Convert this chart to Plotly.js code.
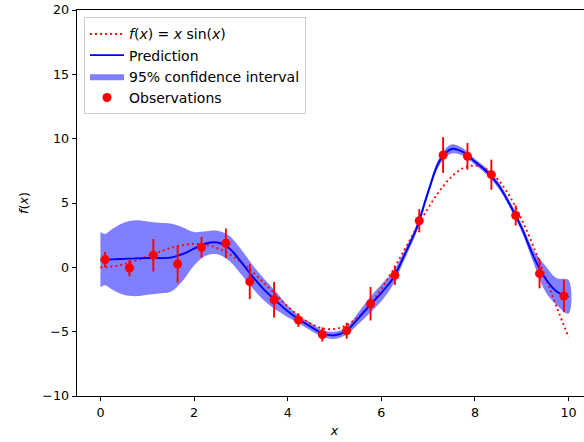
<!DOCTYPE html>
<html>
<head>
<meta charset="utf-8">
<script src="https://cdn.plot.ly/plotly-3.0.1.min.js"></script>
<style>
html,body{margin:0;padding:0;overflow:hidden;background:#fff;}
#chart{width:600px;height:442px;}
</style>
</head>
<body>
<div id="chart"></div>
<script>
// f(x) = x sin(x), read at 0.25 steps
const fX = [0,0.25,0.5,0.75,1,1.25,1.5,1.75,2,2.25,2.5,2.75,3,3.25,3.5,3.75,4,4.25,4.5,4.75,5,5.25,5.5,5.75,6,6.25,6.5,6.75,7,7.25,7.5,7.75,8,8.25,8.5,8.75,9,9.25,9.5,9.75,10];
const fY = [0,0.06,0.24,0.51,0.84,1.19,1.50,1.72,1.82,1.75,1.50,1.05,0.42,-0.35,-1.23,-2.14,-3.03,-3.80,-4.40,-4.75,-4.79,-4.51,-3.88,-2.92,-1.68,-0.21,1.40,3.04,4.60,5.97,7.04,7.71,7.91,7.61,6.79,5.47,3.71,1.61,-0.71,-3.12,-5.44];

// GP prediction mean and 95% half-width
const predX = [0,0.1,0.25,0.5,0.75,1,1.25,1.5,1.75,2,2.25,2.5,2.75,3,3.25,3.5,3.75,4,4.25,4.5,4.75,5,5.25,5.5,5.75,6,6.25,6.5,6.75,7,7.25,7.5,7.75,8,8.25,8.5,8.75,9,9.25,9.5,9.75,10];
const predY = [0.60,0.60,0.62,0.66,0.70,0.72,0.72,0.75,1.02,1.45,1.85,1.93,1.48,0.45,-0.72,-1.75,-2.60,-3.42,-4.08,-4.63,-5.15,-5.28,-4.95,-4.00,-2.97,-1.98,-0.85,1.00,3.00,5.85,8.30,9.20,8.95,8.20,7.45,6.40,4.85,3.05,0.85,-0.85,-1.90,-2.30];
const ciHalf = [2.15,2.00,2.35,2.80,2.95,2.85,2.75,2.65,2.10,1.30,0.95,0.92,0.97,0.97,0.90,0.85,0.70,0.45,0.30,0.30,0.25,0.28,0.28,0.45,0.60,0.65,0.50,0.35,0.30,0.28,0.30,0.35,0.28,0.22,0.25,0.25,0.25,0.30,0.50,1.00,1.05,1.30];

// Observations
const obsX = [0.1,0.62,1.13,1.65,2.16,2.68,3.19,3.71,4.23,4.74,5.26,5.77,6.29,6.81,7.32,7.84,8.35,8.87,9.38,9.9];
const obsY = [0.60,-0.05,0.94,0.26,1.56,1.87,-1.11,-2.52,-4.10,-5.22,-4.93,-2.83,-0.62,3.62,8.73,8.63,7.20,4.03,-0.49,-2.23];
const obsErr = [0.60,0.65,1.26,1.46,0.80,1.15,1.36,1.39,0.53,0.55,0.62,1.30,0.75,0.90,1.39,1.04,1.17,0.78,1.14,1.26];

const upper = predY.map((v,i)=>v+ciHalf[i]);
const lower = predY.map((v,i)=>v-ciHalf[i]);

const FONT = 'DejaVu Sans, sans-serif';
const FS = 12.7;
const LFS = 14;

const traces = [
  {
    x: predX.concat(predX.slice().reverse()),
    y: upper.concat(lower.slice().reverse()),
    type: 'scatter', mode: 'lines', fill: 'toself',
    fillcolor: 'rgba(0,0,255,0.5)',
    line: {width: 0, shape: 'spline', color: 'rgba(0,0,255,0.5)'},
    name: '95% confidence interval', legendrank: 3, hoverinfo: 'skip'
  },
  {
    x: fX, y: fY, type: 'scatter', mode: 'lines',
    line: {color: 'red', width: 1.9, dash: '1.9px,3.1px', shape: 'spline'},
    name: '<i>f</i>(<i>x</i>) = <i>x</i> sin(<i>x</i>)', legendrank: 1
  },
  {
    x: predX, y: predY, type: 'scatter', mode: 'lines',
    line: {color: 'blue', width: 1.9, shape: 'spline'},
    name: 'Prediction', legendrank: 2
  },
  {
    x: obsX, y: obsY, type: 'scatter', mode: 'markers',
    marker: {color: 'red', size: 9},
    error_y: {type: 'data', array: obsErr, visible: true, color: 'red', thickness: 1.9, width: 0},
    name: 'Observations', legendrank: 4
  }
];

const axisCommon = {
  showline: true, linecolor: '#000', linewidth: 1, mirror: true,
  ticks: 'outside', ticklen: 4.4, tickwidth: 1, tickcolor: '#000',
  showgrid: false, zeroline: false,
  tickfont: {family: FONT, size: FS, color: '#000'}
};

const layout = {
  width: 600, height: 442,
  margin: {l: 77, r: 8, t: 10, b: 46},
  paper_bgcolor: '#fff', plot_bgcolor: '#fff',
  font: {family: FONT, size: FS, color: '#000'},
  xaxis: Object.assign({}, axisCommon, {
    range: [-0.5, 10.5], tickvals: [0,2,4,6,8,10],
    title: {text: '<i>x</i>', font: {family: FONT, size: FS}, standoff: 7}
  }),
  yaxis: Object.assign({}, axisCommon, {
    range: [-10, 20], tickvals: [-10,-5,0,5,10,15,20],
    title: {text: '<i>f</i>(<i>x</i>)', font: {family: FONT, size: FS}, standoff: 10}
  }),
  legend: {
    x: 0.0136, y: 0.981, xanchor: 'left', yanchor: 'top',
    bgcolor: 'rgba(255,255,255,0.8)', bordercolor: '#cccccc', borderwidth: 1,
    font: {family: FONT, size: LFS, color: '#000'},
    traceorder: 'normal', itemwidth: 34
  },
  showlegend: true
};

Plotly.newPlot('chart', traces, layout, {displayModeBar: false, staticPlot: true});
</script>
</body>
</html>
